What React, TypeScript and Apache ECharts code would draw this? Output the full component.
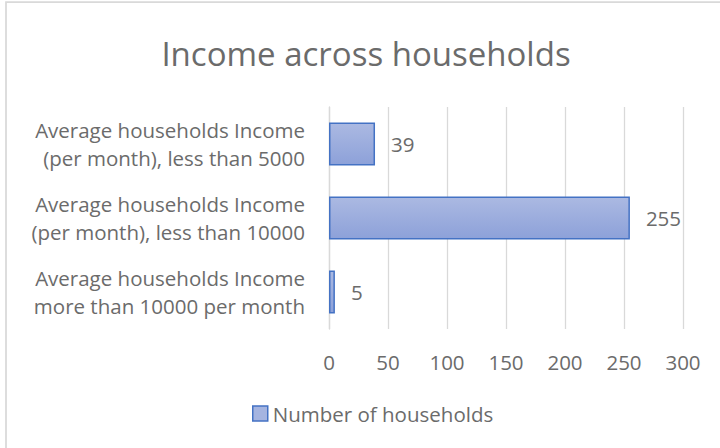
import React, { useEffect, useRef } from "react";
import * as echarts from "echarts";

const titleText = "Income across households";
const seriesName = "Number of households";
const categories = [
  "Average households Income (per month), less than 5000",
  "Average households Income (per month), less than 10000",
  "Average households Income more than 10000 per month",
];
const values = [39, 255, 5];
const xMin = 0;
const xMax = 300;
const xInterval = 50;

const FONT = "'Open Sans', sans-serif";
const TEXT = "#6b6b6b";
const GRID = "#d9d9d9";

export default function App() {
  const ref = useRef<HTMLDivElement>(null);

  useEffect(() => {
    document.body.style.margin = "0";
    if (!ref.current) return;
    const chart = echarts.init(ref.current, undefined, { renderer: "svg" });
    const barFill = new echarts.graphic.LinearGradient(0, 0, 0, 1, [
      { offset: 0, color: "#abb9e2" },
      { offset: 1, color: "#8da1d9" },
    ]);
    chart.setOption({
      animation: false,
      backgroundColor: "#ffffff",
      textStyle: { fontFamily: FONT },
      graphic: [
        {
          type: "rect",
          silent: true,
          z: -1,
          shape: { x: 6, y: 2, width: 900, height: 600 },
          style: { fill: "none", stroke: GRID, lineWidth: 1.75 },
        },
      ],
      title: {
        text: titleText,
        left: 366,
        textAlign: "center",
        top: 37,
        padding: 0,
        textStyle: {
          fontFamily: FONT,
          fontSize: 33,
          fontWeight: "normal",
          color: TEXT,
        },
      },
      grid: { left: 329, right: 37, top: 107, bottom: 119, containLabel: false },
      xAxis: {
        type: "value",
        min: xMin,
        max: xMax,
        interval: xInterval,
        axisLine: { show: false },
        axisTick: { show: false },
        splitLine: { show: true, lineStyle: { color: GRID, width: 1.3 } },
        axisLabel: {
          margin: 22,
          fontFamily: FONT,
          fontSize: 20.5,
          color: TEXT,
        },
      },
      yAxis: {
        type: "category",
        inverse: true,
        data: categories,
        axisLine: { show: true, lineStyle: { color: GRID, width: 1.3 } },
        axisTick: { show: false },
        axisLabel: {
          margin: 24,
          fontFamily: FONT,
          fontSize: 20.5,
          lineHeight: 28.5,
          color: TEXT,
          align: "right",
          formatter: (v: string) => v.replace("Income ", "Income\n"),
        },
      },
      legend: {
        show: true,
        data: [seriesName],
        left: 252,
        top: 403,
        padding: 0,
        itemWidth: 15,
        itemHeight: 15,
        icon: "rect",
        itemStyle: { color: "#a5b4e0", borderColor: "#4472c4", borderWidth: 1.5 },
        textStyle: { fontFamily: FONT, fontSize: 20.5, color: TEXT },
      },
      series: [
        {
          name: seriesName,
          type: "bar",
          data: values,
          barCategoryGap: "42%",
          itemStyle: { color: barFill, borderColor: "#4472c4", borderWidth: 1.5 },
          label: {
            show: true,
            position: "right",
            distance: 16,
            fontFamily: FONT,
            fontSize: 20.5,
            color: TEXT,
          },
        },
      ],
    });
    return () => chart.dispose();
  }, []);

  return <div ref={ref} style={{ width: 720, height: 448 }} />;
}
